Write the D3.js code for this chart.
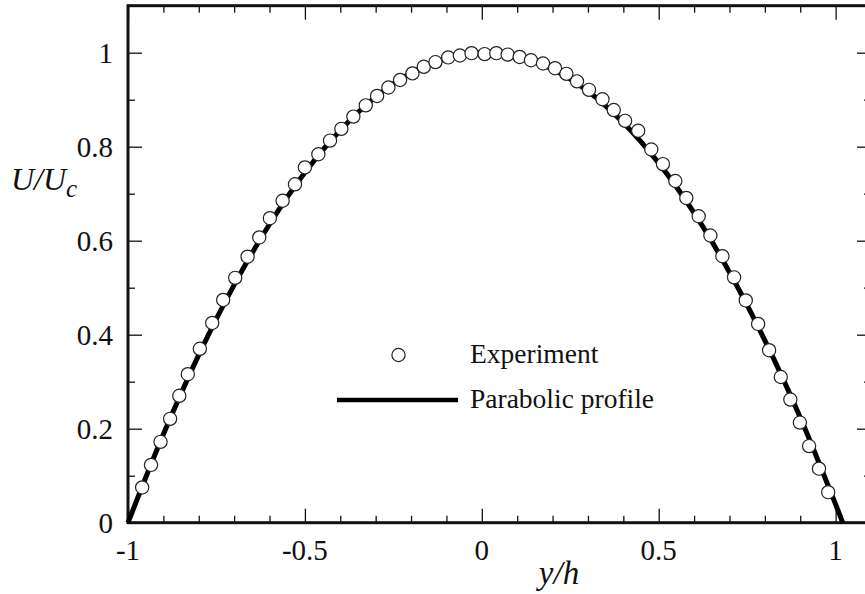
<!DOCTYPE html>
<html>
<head>
<meta charset="utf-8">
<script src="https://cdn.jsdelivr.net/npm/d3@7"></script>
<style>
  html, body { margin: 0; padding: 0; background: #fff; }
  svg { display: block; }
</style>
</head>
<body>
<svg id="chart" width="865" height="594"></svg>
<script>
// Measured velocity profile, y/h positions
const expY = [
  -0.960, -0.935, -0.908, -0.881, -0.855, -0.831, -0.797,
  -0.762, -0.731, -0.697, -0.662, -0.629, -0.599, -0.563, -0.528, -0.500,
  -0.462, -0.429, -0.397, -0.363, -0.328, -0.296, -0.264, -0.231, -0.196,
  -0.164, -0.131, -0.095, -0.062, -0.029,
  0.008, 0.041, 0.073, 0.107, 0.139, 0.173, 0.207, 0.239, 0.269, 0.303,
  0.341, 0.373, 0.405, 0.442, 0.479,
  0.512, 0.547, 0.578, 0.613, 0.646, 0.680, 0.713, 0.746, 0.781,
  0.812, 0.845, 0.872, 0.899, 0.925, 0.953, 0.979
];
// Measured velocity U/Uc at those positions
const expU = [
  0.075, 0.123, 0.172, 0.221, 0.270, 0.316, 0.370,
  0.425, 0.474, 0.521, 0.566, 0.607, 0.648, 0.685, 0.720, 0.756,
  0.784, 0.813, 0.838, 0.864, 0.888, 0.908, 0.926, 0.942, 0.956,
  0.970, 0.980, 0.990, 0.994, 0.999,
  0.997, 0.999, 0.996, 0.991, 0.984, 0.977, 0.967, 0.955, 0.939, 0.921,
  0.901, 0.878, 0.855, 0.834, 0.794,
  0.763, 0.727, 0.691, 0.652, 0.611, 0.567, 0.522, 0.473, 0.423,
  0.367, 0.310, 0.262, 0.213, 0.163, 0.115, 0.065
];
// Parabolic profile samples
const parY = [-1.0, -0.9, -0.8, -0.7, -0.6, -0.5, -0.4, -0.3, -0.2, -0.1, 0.0,
              0.1, 0.2, 0.3, 0.4, 0.5, 0.6, 0.7, 0.8, 0.9, 1.0, 1.02];
const parU = [0.000, 0.188, 0.357, 0.506, 0.635, 0.745, 0.835, 0.906, 0.957, 0.988, 1.000,
              0.992, 0.965, 0.918, 0.851, 0.765, 0.659, 0.533, 0.388, 0.224, 0.039, 0.000];

const xMajor = [-1, -0.5, 0, 0.5, 1];
const xMajorLabels = ["-1", "-0.5", "0", "0.5", "1"];
const xMinor = [-0.9, -0.8, -0.7, -0.6, -0.4, -0.3, -0.2, -0.1, 0.1, 0.2, 0.3, 0.4, 0.6, 0.7, 0.8, 0.9, 1.1];
const yMajor = [0, 0.2, 0.4, 0.6, 0.8, 1];
const yMajorLabels = ["0", "0.2", "0.4", "0.6", "0.8", "1"];
const yMinor = [0.1, 0.3, 0.5, 0.7, 0.9];

const legendItems = ["Experiment", "Parabolic profile"];

const FONT = "Liberation Serif";
const labelColor = "#111";

const svg = d3.select("#chart");
const plotL = 128, plotR = 871, plotT = 5.7, plotB = 522.7;

const x = d3.scaleLinear().domain([-1, 1.1]).range([plotL, plotR]);
const y = d3.scaleLinear().domain([0, 1.1]).range([plotB, plotT]);

const majorLen = 14, minorLen = 7;

function styleAxis(g) {
  g.select(".domain").remove();
  g.selectAll(".tick line").attr("stroke", "#111").attr("stroke-width", 1.3);
  g.selectAll(".tick text").remove();
}

// Bottom axis ticks (inward)
svg.append("g").attr("transform", `translate(0,${plotB})`)
  .call(d3.axisBottom(x).tickValues(xMajor).tickSize(-majorLen)).call(styleAxis);
svg.append("g").attr("transform", `translate(0,${plotB})`)
  .call(d3.axisBottom(x).tickValues(xMinor).tickSize(-minorLen)).call(styleAxis);
// Top axis ticks (inward)
svg.append("g").attr("transform", `translate(0,${plotT})`)
  .call(d3.axisTop(x).tickValues(xMajor).tickSize(-majorLen)).call(styleAxis);
svg.append("g").attr("transform", `translate(0,${plotT})`)
  .call(d3.axisTop(x).tickValues(xMinor).tickSize(-minorLen)).call(styleAxis);
// Left axis ticks
svg.append("g").attr("transform", `translate(${plotL},0)`)
  .call(d3.axisLeft(y).tickValues(yMajor).tickSize(-majorLen)).call(styleAxis);
svg.append("g").attr("transform", `translate(${plotL},0)`)
  .call(d3.axisLeft(y).tickValues(yMinor).tickSize(-minorLen)).call(styleAxis);
// Right axis ticks
svg.append("g").attr("transform", `translate(${plotR},0)`)
  .call(d3.axisRight(y).tickValues(yMajor).tickSize(-majorLen)).call(styleAxis);
svg.append("g").attr("transform", `translate(${plotR},0)`)
  .call(d3.axisRight(y).tickValues(yMinor).tickSize(-minorLen)).call(styleAxis);

// Frame
svg.append("rect")
  .attr("x", plotL).attr("y", plotT)
  .attr("width", plotR - plotL).attr("height", plotB - plotT)
  .attr("fill", "none").attr("stroke", "#111").attr("stroke-width", 3);

// Tick labels
svg.append("g").selectAll("text").data(xMajor).join("text")
  .attr("x", d => x(d)).attr("y", 560)
  .attr("text-anchor", "middle").attr("font-size", 29)
  .attr("font-family", FONT).attr("fill", labelColor)
  .text((d, i) => xMajorLabels[i]);
svg.append("g").selectAll("text").data(yMajor).join("text")
  .attr("x", 113).attr("y", d => y(d)).attr("dy", "0.35em")
  .attr("text-anchor", "end").attr("font-size", 29)
  .attr("font-family", FONT).attr("fill", labelColor)
  .text((d, i) => yMajorLabels[i]);

// Axis titles
const yt = svg.append("text").attr("x", 11).attr("y", 190)
  .attr("font-size", 32).attr("font-style", "italic")
  .attr("font-family", FONT).attr("fill", labelColor);
yt.append("tspan").text("U/U");
yt.append("tspan").attr("font-size", 25).attr("dy", 7).text("c");

svg.append("text").attr("x", 559).attr("y", 584)
  .attr("text-anchor", "middle").attr("font-size", 33).attr("font-style", "italic")
  .attr("font-family", FONT).attr("fill", labelColor)
  .text("y/h");

// Parabolic profile
const line = d3.line()
  .x(d => x(d[0])).y(d => y(d[1]))
  .curve(d3.curveCatmullRom.alpha(0.5));
svg.append("path")
  .datum(parY.map((v, i) => [v, parU[i]]))
  .attr("d", line)
  .attr("fill", "none").attr("stroke", "#000").attr("stroke-width", 5);

// Experimental points
svg.append("g").selectAll("circle")
  .data(expY.map((v, i) => [v, expU[i]]))
  .join("circle")
  .attr("cx", d => x(d[0])).attr("cy", d => y(d[1])).attr("r", 6.6)
  .attr("fill", "#fff").attr("stroke", "#222").attr("stroke-width", 1.2);

// Legend
const lg = svg.append("g");
lg.append("circle").attr("cx", 398.5).attr("cy", 355).attr("r", 6.6)
  .attr("fill", "#fff").attr("stroke", "#222").attr("stroke-width", 1.2);
lg.append("text").attr("x", 470).attr("y", 363).attr("font-size", 27.5)
  .attr("font-family", FONT).attr("fill", labelColor).text(legendItems[0]);
lg.append("line").attr("x1", 337).attr("x2", 458).attr("y1", 400).attr("y2", 400)
  .attr("stroke", "#000").attr("stroke-width", 4.5);
lg.append("text").attr("x", 470).attr("y", 408).attr("font-size", 27.5)
  .attr("font-family", FONT).attr("fill", labelColor).text(legendItems[1]);
</script>
</body>
</html>
